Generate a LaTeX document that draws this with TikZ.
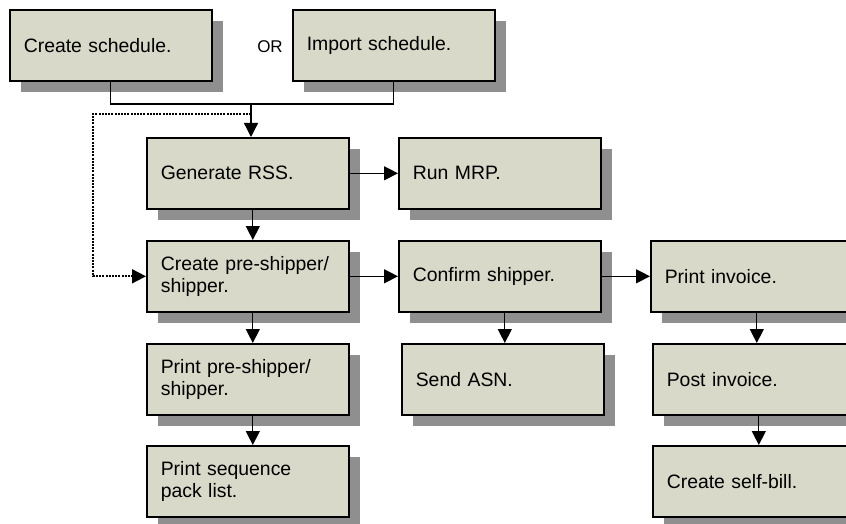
\documentclass[tikz,border=0pt]{standalone}
\usepackage{fontspec}
\setmainfont{Liberation Sans}
\usetikzlibrary{shadows,arrows.meta}
\definecolor{boxfill}{RGB}{216,217,200}
\definecolor{boxshade}{RGB}{143,143,143}
\tikzset{
  stepbox/.style = {draw, line width=1.6pt, fill=boxfill, anchor=north west,
    minimum width=202pt, minimum height=71pt, text width=174pt, inner xsep=14pt,
    align=left, font=\fontsize{19.4}{22}\selectfont,
    drop shadow={shadow xshift=11pt, shadow yshift=-11pt, fill=boxshade, opacity=1}},
  flow/.style     = {line width=1.3pt, -{Triangle[length=14pt,width=14pt]}},
  loopline/.style = {line width=1.8pt, dash pattern=on 2pt off 1.2pt,
    -{Triangle[length=14pt,width=14pt]}},
}
\begin{document}
\begin{tikzpicture}[x=1pt, y=-1pt]
  \useasboundingbox (0,0) rectangle (846,524);
  \node [stepbox] (csched)   at (9,9)     {Create schedule.};
  \node [stepbox] (isched)   at (292,9)   {Import schedule.};
  \node [font=\fontsize{17}{20}\selectfont] (or) at (270,47) {OR};
  \node [stepbox] (rss)      at (146,137) {Generate RSS.};
  \node [stepbox] (mrp)      at (398,137) {Run MRP.};
  \node [stepbox] (cps)      at (146,240) {Create pre-shipper/\\shipper.};
  \node [stepbox] (conf)     at (398,240) {Confirm shipper.};
  \node [stepbox] (pinv)     at (650,240) {Print invoice.};
  \node [stepbox] (pps)      at (146,343) {Print pre-shipper/\\shipper.};
  \node [stepbox] (asn)      at (401,343) {Send ASN.};
  \node [stepbox] (postinv)  at (652,343) {Post invoice.};
  \node [stepbox] (seq)      at (146,445) {Print sequence\\pack list.};
  \node [stepbox] (selfbill) at (652,445) {Create self-bill.};

  \coordinate (join)  at (251,104);
  \coordinate (split) at (251,114);
  \coordinate (bend)  at (93,114);
  \draw [line width=1.3pt] (csched.south) |- (join) -| (isched.south);
  \draw [flow] (join) -- (join |- rss.north);
  \draw [loopline] (split) -- (bend) |- (cps.west);

  \draw [flow] (rss.east)  -- (mrp.west);
  \draw [flow] (cps.east)  -- (conf.west);
  \draw [flow] (conf.east) -- (pinv.west);
  \foreach \a/\b in {rss/cps, cps/pps, pps/seq, conf/asn, pinv/postinv, postinv/selfbill}
    \draw [flow] ([xshift=5pt]\a.south) -- ([xshift=5pt]\a.south |- \b.north);
\end{tikzpicture}
\end{document}
